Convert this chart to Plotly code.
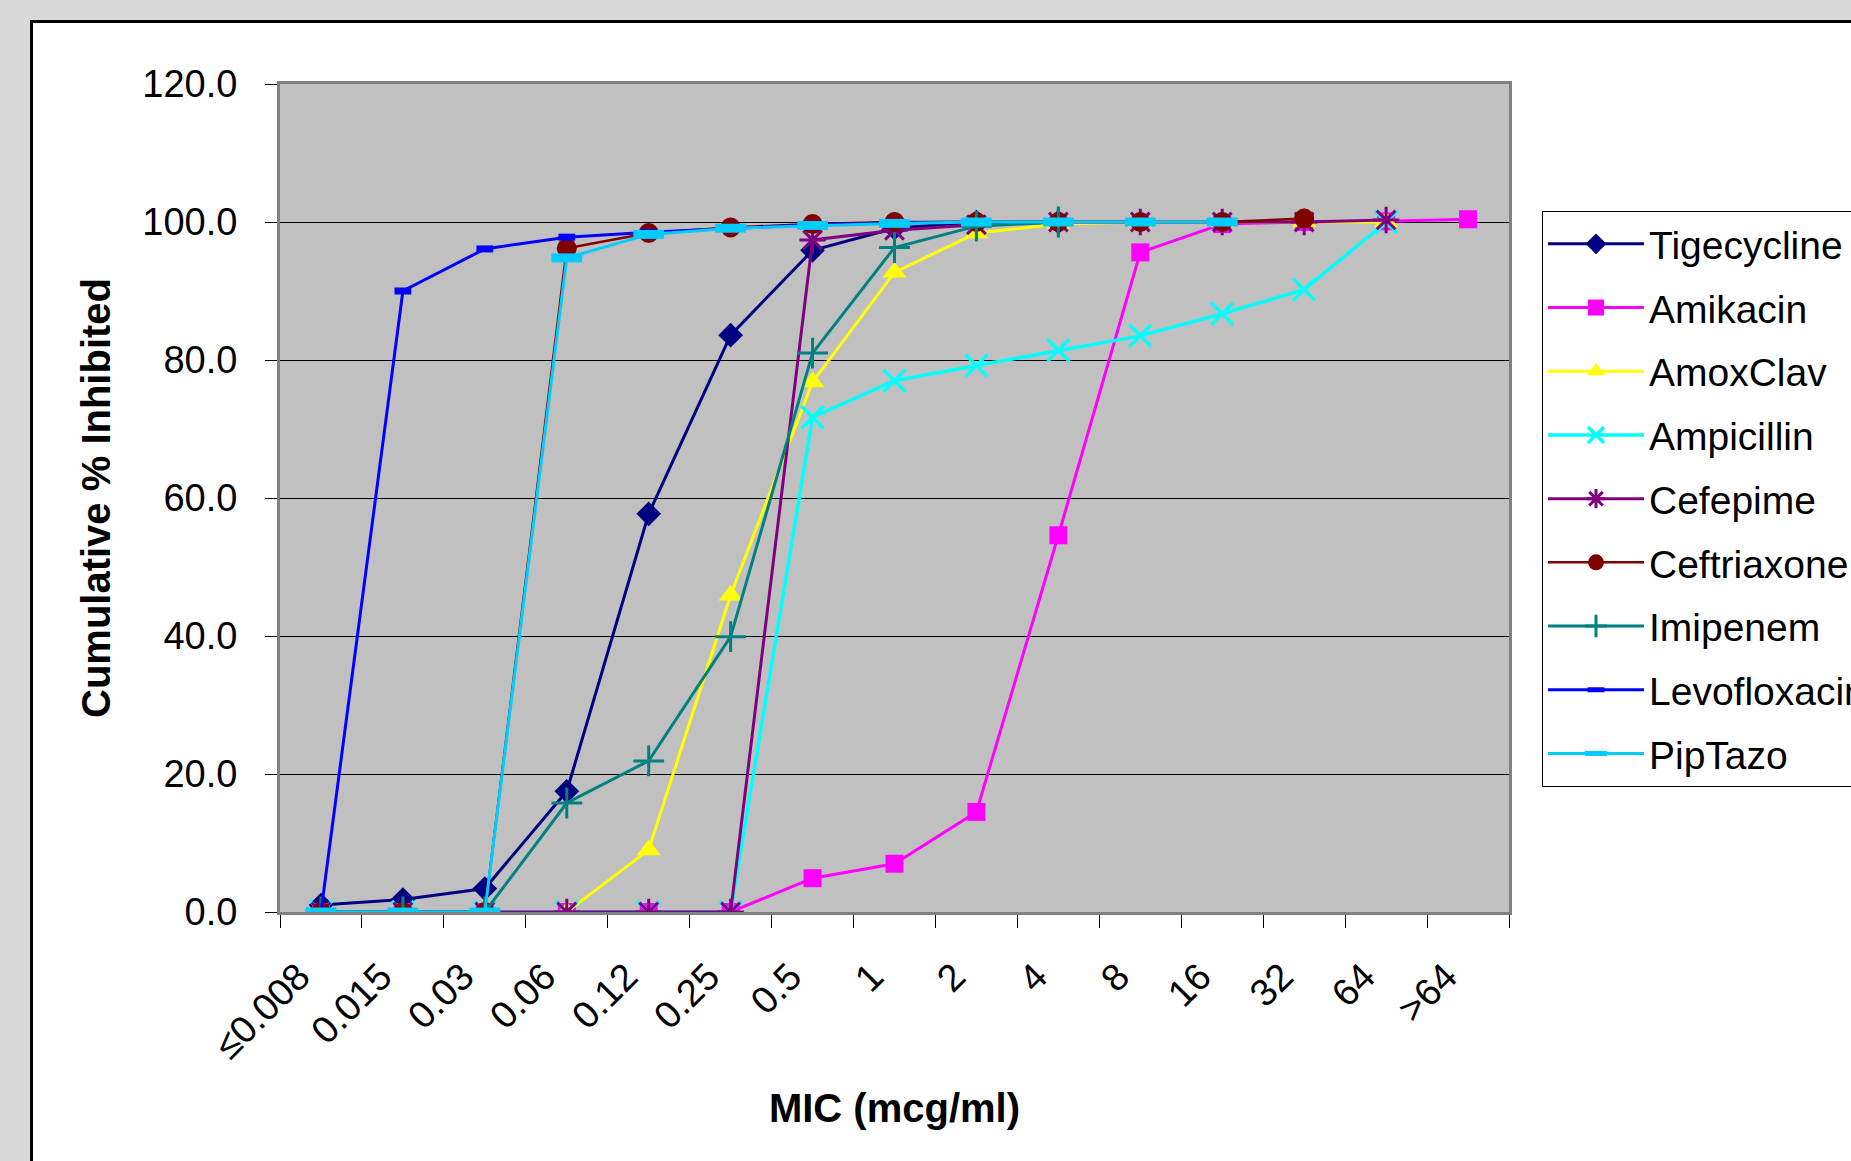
import plotly.graph_objects as go

categories = ["≤0.008", "0.015", "0.03", "0.06", "0.12", "0.25", "0.5", "1", "2",
              "4", "8", "16", "32", "64", ">64"]

tigecycline = [1.0, 1.8, 3.4, 17.5, 57.7, 83.6, 95.9, 99.1, 100.0, 100.0]
amikacin = [0, 0, 0, 0, 0, 0, 4.9, 7.0, 14.5, 54.6, 95.6, 99.7, 100.0, 100.1, 100.4]
amoxclav = [0, 0, 0, 0, 9.0, 45.9, 76.8, 92.7, 98.4, 99.7, 100.0, 100.0, 100.0, 100.0]
ampicillin = [0, 0, 0, 0, 0, 0, 71.7, 77.0, 79.2, 81.4, 83.5, 86.7, 90.2, 100.0]
cefepime = [0, 0, 0, 0, 0, 0, 97.4, 98.8, 99.6, 100.0, 100.0, 100.0, 100.0, 100.3]
ceftriaxone = [0, 0, 0, 96.2, 98.4, 99.2, 99.7, 100.0, 100.0, 100.0, 100.0, 100.0, 100.5]
imipenem = [0, 0, 0, 15.8, 21.9, 39.9, 81.0, 96.3, 99.4, 100.0]
levofloxacin = [0, 90.0, 96.1, 97.8, 98.5, 99.1, 99.6, 99.9, 100.0]
piptazo = [0, 0, 0, 94.8, 98.2, 99.1, 99.5, 99.8, 100.0, 100.0, 100.0, 100.0]

series = [
    ("Tigecycline", tigecycline, "#000080", dict(symbol="diamond", size=19), 3),
    ("Amikacin", amikacin, "#FF00FF", dict(symbol="square", size=18), 3),
    ("AmoxClav", amoxclav, "#FFFF00", dict(symbol="triangle-up", size=21), 3),
    ("Ampicillin", ampicillin, "#00FFFF", dict(symbol="x-thin", size=22, line=dict(width=3.5, color="#00FFFF")), 3.5),
    ("Cefepime", cefepime, "#800080", dict(symbol="asterisk-open", size=22, line=dict(width=3, color="#800080")), 3),
    ("Ceftriaxone", ceftriaxone, "#800000", dict(symbol="circle", size=20), 2.5),
    ("Imipenem", imipenem, "#008080", dict(symbol="cross-thin", size=22, line=dict(width=3, color="#008080")), 3),
    ("Levofloxacin", levofloxacin, "#0000FF", dict(symbol="line-ew", size=12, line=dict(width=7, color="#0000FF")), 3),
    ("PipTazo", piptazo, "#00CCFF", dict(symbol="line-ew", size=22, line=dict(width=9, color="#00CCFF")), 3),
]

fig = go.Figure()
for name, vals, color, mk, lw in series:
    mk = dict(mk)
    mk["color"] = color
    fig.add_trace(go.Scatter(
        x=list(range(len(vals))), y=vals, name=name, mode="lines+markers",
        text=categories[:len(vals)],
        line=dict(color=color, width=lw), marker=mk, legendgroup=name,
    ))

L, R, T, B = 280, 342, 84, 249
W = 1851 - L - R
H = 1161 - T - B

def px_x(p):
    return (p - L) / W

def px_y(p):
    return (1161 - B - p) / H

n = len(categories)
label_pos = [i - 0.27 for i in range(n)]
boundaries = [i - 0.5 for i in range(n + 1)]

fig.update_layout(
    width=1851, height=1161,
    margin=dict(l=L, r=R, t=T, b=B, autoexpand=False),
    paper_bgcolor="#D9D9D9",
    plot_bgcolor="#C0C0C0",
    font=dict(family="Arial, 'Liberation Sans', sans-serif", color="black", size=37),
    showlegend=True,
    legend=dict(
        x=px_x(1542), y=px_y(211), xanchor="left", yanchor="top",
        bgcolor="white", bordercolor="black", borderwidth=1,
        font=dict(size=39), traceorder="grouped", tracegroupgap=10,
        itemwidth=96,
    ),
    xaxis=dict(
        type="linear", range=[-0.5, n - 0.5],
        tickmode="array", tickvals=label_pos, ticktext=categories,
        ticks="outside", ticklen=13, tickcolor="rgba(0,0,0,0)",
        tickangle=-45, tickfont=dict(size=38), showgrid=False, zeroline=False,
        minor=dict(tickmode="array", tickvals=boundaries, ticks="outside",
                   ticklen=13, tickwidth=1, tickcolor="black", showgrid=False),
        showline=True, linecolor="#808080", linewidth=3, mirror=True,
        ticklabelstandoff=11,
        title=dict(text="MIC (mcg/ml)", font=dict(size=40, weight="bold"), standoff=29),
    ),
    yaxis=dict(
        range=[0, 120], dtick=20, tickformat=".1f", ticks="outside", ticklen=12,
        tickwidth=1, tickcolor="black", tickfont=dict(size=38),
        showgrid=True, gridcolor="black", gridwidth=1,
        zeroline=False, showline=True, linecolor="#808080", linewidth=3, mirror=True,
        ticklabelstandoff=20,
        title=dict(text="Cumulative % Inhibited", font=dict(size=40, weight="bold"), standoff=20),
    ),
    shapes=[
        dict(type="rect", xref="paper", yref="paper", layer="below",
             x0=px_x(31.5), x1=px_x(2100), y0=px_y(1400), y1=px_y(21.5),
             fillcolor="white", line=dict(color="black", width=3)),
        dict(type="rect", xref="paper", yref="paper", layer="below",
             x0=0, x1=1, y0=0, y1=1, fillcolor="#C0C0C0", line=dict(width=0)),
    ],
)

fig.write_html("out.html", config={"displayModeBar": False},
               post_script="document.body.style.margin='0px';")
